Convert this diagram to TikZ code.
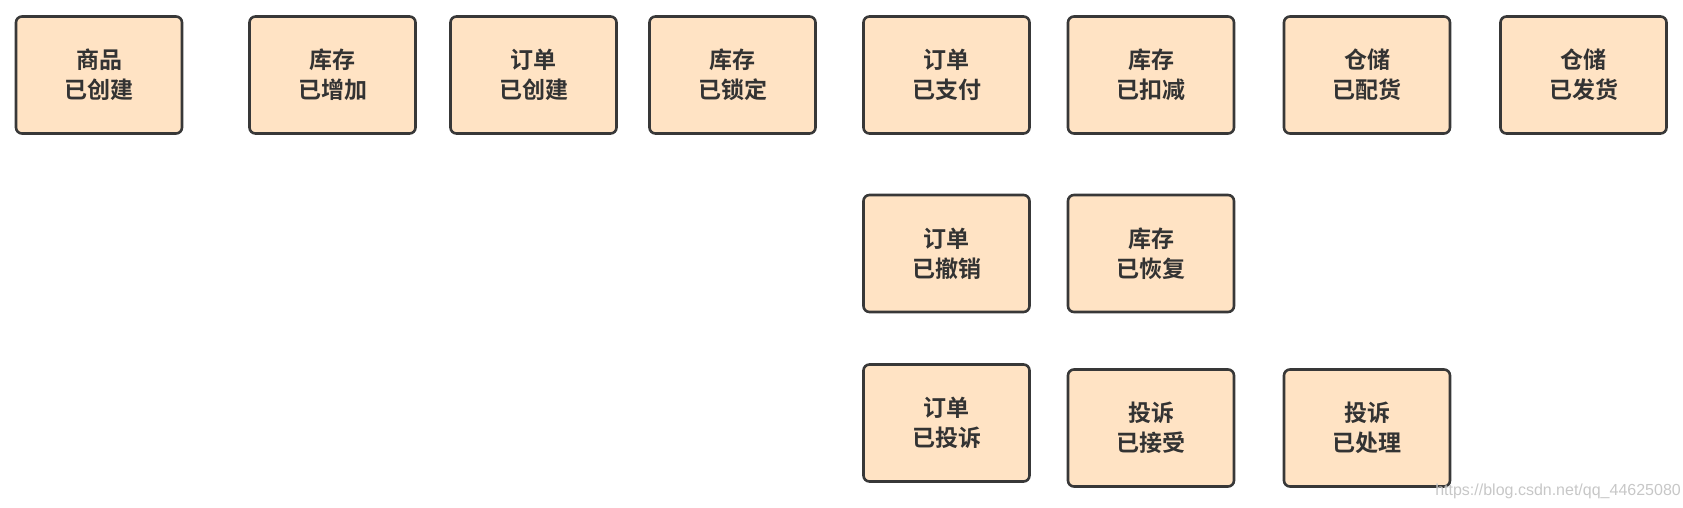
\documentclass[tikz,border=0pt]{standalone}
\usepackage{fontspec}
\newfontfamily\cjk{Noto Sans CJK SC}[BoldFont={Noto Sans CJK SC Bold}]
\newfontfamily\wm{Liberation Sans}
\begin{document}
\begin{tikzpicture}[x=1pt,y=-1pt,
  evt/.style={draw=black!78, line width=2.6pt, fill={rgb,255:red,255;green,227;blue,196}, rounded corners=6pt,
    minimum width=166pt, minimum height=117pt, inner sep=0pt,
    align=center, font=\cjk\bfseries\fontsize{23}{30}\selectfont, text=black!80}]
\useasboundingbox (0,0) rectangle (1683,508);
\node[evt] (a1) at (99,75) {商品\\已创建};
\node[evt] (a2) at (332.5,75) {库存\\已增加};
\node[evt] (a3) at (533.5,75) {订单\\已创建};
\node[evt] (a4) at (732.5,75) {库存\\已锁定};
\node[evt] (a5) at (946.5,75) {订单\\已支付};
\node[evt] (a6) at (1151,75) {库存\\已扣减};
\node[evt] (a7) at (1367,75) {仓储\\已配货};
\node[evt] (a8) at (1583.5,75) {仓储\\已发货};
\node[evt] (b1) at (946.5,253.5) {订单\\已撤销};
\node[evt] (b2) at (1151,253.5) {库存\\已恢复};
\node[evt] (c1) at (946.5,423) {订单\\已投诉};
\node[evt] (c2) at (1151,428) {投诉\\已接受};
\node[evt] (c3) at (1367,428) {投诉\\已处理};
\node[anchor=east, text=black!22, font=\wm\fontsize{16}{18}\selectfont, inner sep=0pt] (wm) at (1681,491) {https://blog.csdn.net/qq\_44625080};
\end{tikzpicture}
\end{document}
